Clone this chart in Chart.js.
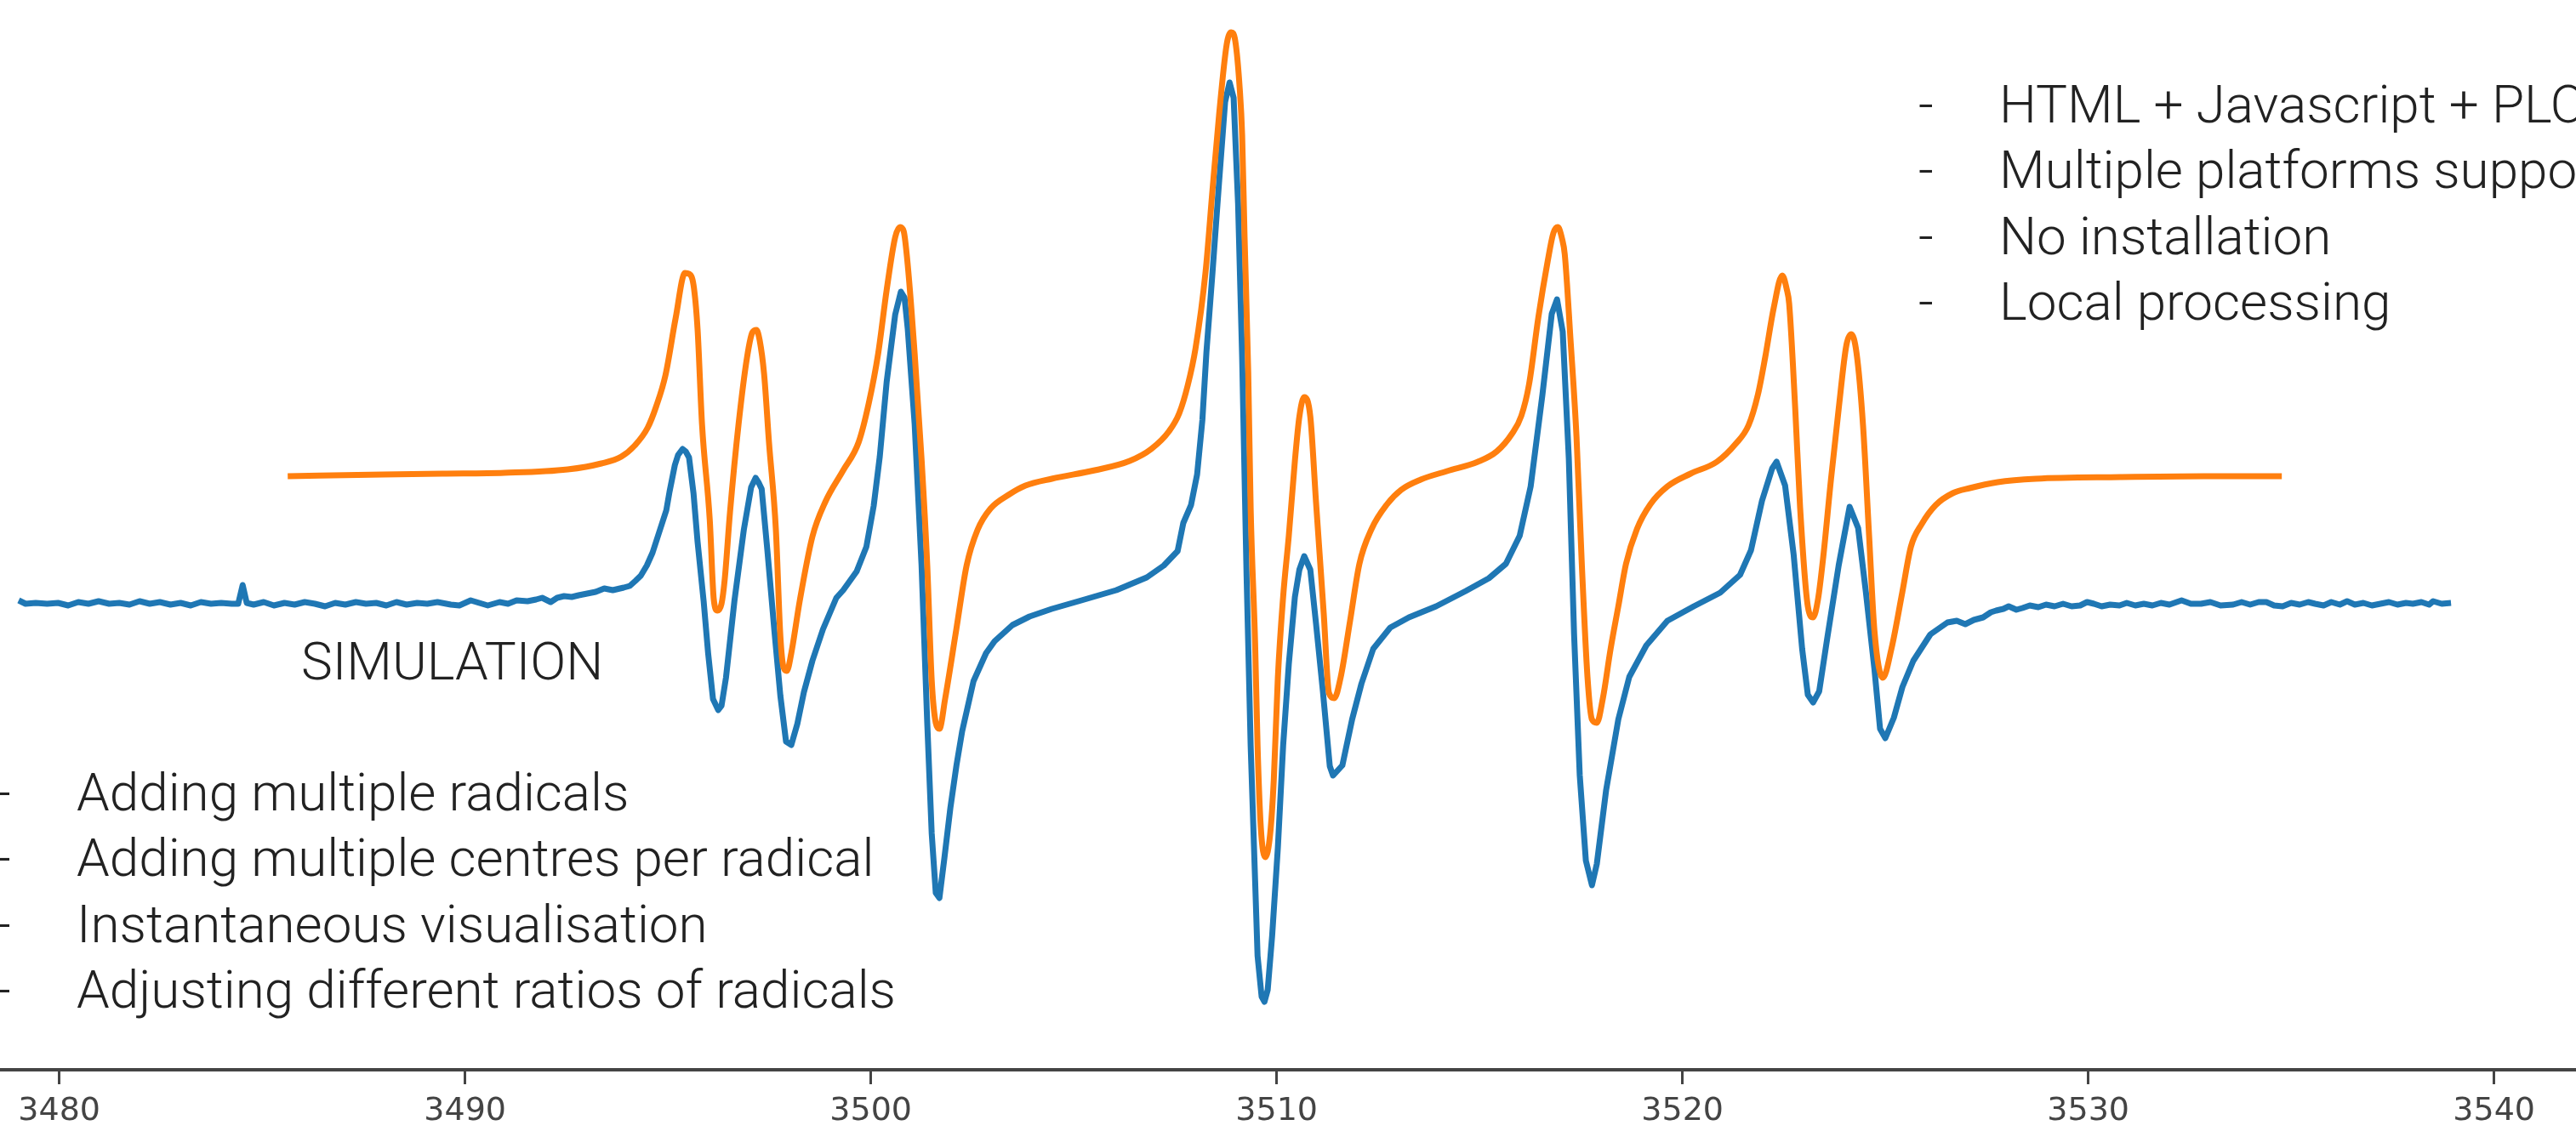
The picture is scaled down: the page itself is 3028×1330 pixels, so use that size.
<!DOCTYPE html>
<html>
<head>
<meta charset="utf-8">
<title>EPR spectrum vs simulation</title>
<script src="https://cdn.jsdelivr.net/npm/chart.js@4.4.1/dist/chart.umd.min.js"></script>
<style>
  html, body { margin: 0; padding: 0; background: #fff; }
  canvas { display: block; }
</style>
</head>
<body>
<canvas id="spectrum" width="3028" height="1330"></canvas>
<script>
// measured spectrum (blue), field in G, signal in a.u.
const expField = [
  3479.00, 3479.17, 3479.42, 3479.70, 3479.97, 3480.22, 3480.47, 3480.72, 3480.97, 3481.23,
  3481.48, 3481.73, 3481.98, 3482.23, 3482.48, 3482.74, 3482.99, 3483.24, 3483.49, 3483.74,
  3483.99, 3484.25, 3484.41, 3484.52, 3484.62, 3484.79, 3485.04, 3485.29, 3485.55, 3485.80,
  3486.05, 3486.30, 3486.55, 3486.80, 3487.05, 3487.31, 3487.56, 3487.81, 3488.06, 3488.31,
  3488.56, 3488.82, 3489.07, 3489.32, 3489.65, 3489.86, 3490.14, 3490.35, 3490.56, 3490.85,
  3491.06, 3491.27, 3491.54, 3491.75, 3491.90, 3492.11, 3492.27, 3492.44, 3492.63, 3492.80,
  3493.01, 3493.22, 3493.43, 3493.64, 3493.91, 3494.06, 3494.20, 3494.33, 3494.48, 3494.62,
  3494.79, 3494.96, 3495.04, 3495.17, 3495.25, 3495.36, 3495.44, 3495.52, 3495.63, 3495.73,
  3495.88, 3495.99, 3496.11, 3496.24, 3496.32, 3496.43, 3496.64, 3496.87, 3497.05, 3497.16,
  3497.24, 3497.31, 3497.45, 3497.62, 3497.77, 3497.91, 3498.04, 3498.19, 3498.35, 3498.56,
  3498.82, 3499.15, 3499.32, 3499.65, 3499.89, 3500.07, 3500.22, 3500.39, 3500.60, 3500.74,
  3500.83, 3500.91, 3501.08, 3501.25, 3501.39, 3501.50, 3501.60, 3501.69, 3501.81, 3501.96,
  3502.11, 3502.25, 3502.53, 3502.84, 3503.05, 3503.49, 3503.91, 3504.46, 3505.19, 3506.05,
  3506.80, 3507.22, 3507.56, 3507.70, 3507.89, 3508.04, 3508.17, 3508.27, 3508.42, 3508.58,
  3508.73, 3508.84, 3508.94, 3509.05, 3509.15, 3509.26, 3509.36, 3509.47, 3509.53, 3509.63,
  3509.70, 3509.78, 3509.89, 3510.03, 3510.16, 3510.30, 3510.45, 3510.56, 3510.68, 3510.83,
  3510.97, 3511.14, 3511.31, 3511.39, 3511.62, 3511.86, 3512.09, 3512.38, 3512.80, 3513.26,
  3513.93, 3514.66, 3515.23, 3515.65, 3515.99, 3516.26, 3516.55, 3516.78, 3516.91, 3517.05,
  3517.20, 3517.33, 3517.47, 3517.62, 3517.77, 3517.89, 3518.12, 3518.42, 3518.69, 3519.11,
  3519.63, 3520.28, 3520.93, 3521.42, 3521.69, 3521.96, 3522.21, 3522.32, 3522.53, 3522.74,
  3522.95, 3523.09, 3523.22, 3523.37, 3523.57, 3523.85, 3524.12, 3524.33, 3524.52, 3524.73,
  3524.87, 3525.00, 3525.21, 3525.42, 3525.69, 3526.11, 3526.53, 3526.76, 3526.97, 3527.18,
  3527.41, 3527.60, 3527.73, 3527.91, 3528.04, 3528.23, 3528.38, 3528.56, 3528.77, 3528.96,
  3529.17, 3529.38, 3529.59, 3529.80, 3529.97, 3530.14, 3530.33, 3530.54, 3530.77, 3530.95,
  3531.16, 3531.37, 3531.58, 3531.79, 3532.00, 3532.30, 3532.53, 3532.78, 3533.01, 3533.26,
  3533.57, 3533.78, 3533.99, 3534.20, 3534.39, 3534.58, 3534.79, 3535.00, 3535.21, 3535.42,
  3535.59, 3535.80, 3535.99, 3536.20, 3536.38, 3536.57, 3536.78, 3536.99, 3537.20, 3537.41,
  3537.62, 3537.83, 3538.00, 3538.21, 3538.40, 3538.50, 3538.71, 3538.94
];
const expSignal = [
  0.3, -0.1, 0, -0.1, 0, -0.3, 0.1, -0.1, 0.2, -0.1,
  0, -0.2, 0.2, -0.1, 0.1, -0.2, 0, -0.3, 0.1, -0.1,
  0, -0.1, -0.1, 2.1, 0, -0.2, 0.1, -0.3, 0, -0.2,
  0.1, -0.1, -0.4, 0, -0.2, 0.1, -0.1, 0, -0.3, 0.1,
  -0.2, 0, -0.1, 0.1, -0.2, -0.3, 0.3, 0, -0.3, 0.1,
  -0.1, 0.3, 0.2, 0.4, 0.6, 0.1, 0.6, 0.8, 0.7, 0.9,
  1.1, 1.3, 1.7, 1.5, 1.8, 2.0, 2.6, 3.2, 4.4, 5.9,
  8.4, 10.9, 13.1, 16.2, 17.4, 18.1, 17.8, 17.1, 12.9, 7.2,
  0.2, -5.9, -11.3, -12.6, -12.1, -8.8, 0.3, 8.6, 13.6, 14.7,
  14.1, 13.4, 6.2, -3.1, -10.9, -16.3, -16.7, -14.2, -10.5, -6.8,
  -3.1, 0.6, 1.5, 3.7, 6.6, 11.4, 17.2, 26.0, 33.9, 36.6,
  35.9, 32.2, 21.0, 4.4, -14.1, -27.1, -34.1, -34.7, -30.1, -24.1,
  -19.1, -15.1, -9.2, -5.9, -4.5, -2.6, -1.6, -0.7, 0.3, 1.5,
  3.0, 4.4, 6.1, 9.4, 11.5, 15.1, 21.5, 29.5, 38.9, 49.4,
  58.9, 61.2, 59.4, 46.9, 28.9, 3.1, -16.8, -32.7, -41.5, -46.3,
  -46.9, -45.5, -39.1, -28.8, -16.8, -7.2, 0.7, 3.9, 5.5, 3.9,
  -2.4, -10.4, -19.2, -20.3, -19.1, -13.7, -9.5, -5.4, -2.9, -1.7,
  -0.4, 1.4, 2.9, 4.6, 7.9, 13.7, 24.5, 34.0, 35.7, 31.9,
  17.0, -3.7, -20.3, -30.3, -33.2, -30.7, -22.0, -13.7, -8.7, -5.0,
  -2.1, -0.4, 1.2, 3.3, 6.2, 12.0, 15.8, 16.6, 13.8, 5.7,
  -5.4, -10.8, -11.7, -10.4, -4.1, 4.4, 11.3, 8.8, 1.3, -7.7,
  -14.8, -15.9, -13.5, -9.9, -6.8, -3.7, -2.3, -2.1, -2.5, -2.0,
  -1.7, -1.1, -0.9, -0.7, -0.4, -0.8, -0.6, -0.3, -0.5, -0.2,
  -0.4, -0.1, -0.4, -0.3, 0.1, -0.1, -0.4, -0.2, -0.3, 0,
  -0.3, -0.1, -0.3, 0, -0.2, 0.3, -0.1, -0.1, 0.1, -0.3,
  -0.2, 0.1, -0.2, 0.1, 0.1, -0.3, -0.4, 0, -0.2, 0.1,
  -0.1, -0.3, 0.1, -0.2, 0.2, -0.2, 0, -0.3, -0.1, 0.1,
  -0.2, 0, -0.1, 0.1, -0.2, 0.2, -0.1, 0
];

// simulated spectrum (orange), drawn with its own offset
const simField = [
  3485.63, 3487.98, 3489.44, 3490.97, 3492.53, 3493.36, 3493.85, 3494.18, 3494.50, 3494.71,
  3494.94, 3495.19, 3495.42, 3495.52, 3495.63, 3495.73, 3495.84, 3496.03, 3496.13, 3496.22,
  3496.32, 3496.40, 3496.53, 3496.74, 3496.95, 3497.08, 3497.18, 3497.26, 3497.37, 3497.49,
  3497.66, 3497.77, 3497.85, 3497.93, 3498.04, 3498.25, 3498.56, 3498.88, 3499.32, 3499.70,
  3499.95, 3500.18, 3500.39, 3500.60, 3500.72, 3500.81, 3500.91, 3501.08, 3501.25, 3501.39,
  3501.50, 3501.60, 3501.69, 3501.83, 3502.11, 3502.36, 3502.63, 3502.95, 3503.39, 3503.81,
  3504.46, 3505.52, 3506.38, 3506.91, 3507.35, 3507.60, 3507.81, 3508.00, 3508.25, 3508.42,
  3508.58, 3508.77, 3508.88, 3508.98, 3509.09, 3509.15, 3509.21, 3509.30, 3509.36, 3509.47,
  3509.53, 3509.61, 3509.72, 3509.84, 3509.93, 3510.03, 3510.16, 3510.30, 3510.45, 3510.56,
  3510.68, 3510.83, 3510.97, 3511.16, 3511.29, 3511.42, 3511.58, 3511.81, 3512.04, 3512.34,
  3512.72, 3513.07, 3513.55, 3514.20, 3514.96, 3515.42, 3515.80, 3516.03, 3516.22, 3516.45,
  3516.68, 3516.82, 3516.93, 3517.03, 3517.10, 3517.24, 3517.39, 3517.52, 3517.66, 3517.77,
  3517.89, 3518.04, 3518.23, 3518.42, 3518.61, 3518.88, 3519.21, 3519.63, 3520.20, 3520.85,
  3521.31, 3521.63, 3521.86, 3522.04, 3522.25, 3522.46, 3522.57, 3522.63, 3522.78, 3522.90,
  3523.09, 3523.22, 3523.34, 3523.47, 3523.66, 3523.85, 3524.04, 3524.16, 3524.29, 3524.45,
  3524.60, 3524.73, 3524.94, 3525.15, 3525.42, 3525.63, 3525.90, 3526.24, 3526.66, 3527.08,
  3527.77, 3528.71, 3530.79, 3532.84, 3534.77
];
const simSignal = [
  14.9, 15.1, 15.2, 15.3, 15.7, 16.4, 17.2, 18.5, 20.6, 23.1,
  26.8, 33.5, 38.8, 38.7, 37.4, 32.2, 21.0, 9.8, 0.4, -0.9,
  -0.1, 2.8, 10.7, 21.0, 28.9, 31.8, 32.1, 30.9, 26.9, 18.9,
  8.6, -3.9, -7.6, -8.0, -5.9, 0.3, 7.8, 11.9, 15.6, 18.9,
  23.5, 29.3, 36.8, 43.0, 44.2, 43.7, 39.7, 29.3, 16.9, 4.4,
  -9.1, -14.1, -14.8, -11.3, -3.0, 4.4, 8.6, 11.1, 12.7, 13.8,
  14.6, 15.6, 16.7, 18.1, 20.2, 22.3, 25.6, 29.9, 39.0, 48.6,
  57.3, 65.7, 67.1, 66.1, 60.5, 55.0, 43.0, 27.1, 11.1, -4.8,
  -16.8, -26.4, -29.9, -27.2, -20.8, -8.8, 0.7, 7.9, 16.7, 21.9,
  24.2, 21.9, 11.9, -1.2, -10.6, -11.2, -8.7, -2.1, 4.6, 8.7,
  11.6, 13.3, 14.5, 15.5, 16.6, 17.8, 19.9, 22.0, 25.7, 33.6,
  40.2, 43.5, 44.2, 42.9, 41.0, 31.1, 19.5, 4.6, -8.7, -13.7,
  -14.1, -11.2, -5.4, -0.4, 4.6, 8.7, 11.6, 13.7, 15.2, 16.6,
  18.7, 20.9, 24.5, 28.9, 34.7, 38.5, 36.9, 35.2, 22.8, 11.2,
  -0.4, -1.7, 0.4, 5.4, 14.5, 22.8, 30.3, 31.6, 29.4, 20.9,
  7.9, -3.2, -8.8, -5.4, 1.3, 6.6, 9.3, 11.5, 12.9, 13.5,
  14.2, 14.6, 14.8, 14.9, 14.9
];

const tickValues = [3480, 3490, 3500, 3510, 3520, 3530, 3540];

const notesRight = [
  "HTML + Javascript + PLOTLY",
  "Multiple platforms supported",
  "No installation",
  "Local processing"
];
const notesLeft = [
  "Adding multiple radicals",
  "Adding multiple centres per radical",
  "Instantaneous visualisation",
  "Adjusting different ratios of radicals"
];
const simLabel = "SIMULATION";

(function () {
  const toPoints = (xs, ys) => xs.map((x, i) => ({ x, y: ys[i] }));

  // slide-style annotations drawn over the plot
  const notesPlugin = {
    id: "notes",
    afterDraw(chart) {
      const ctx = chart.ctx;
      ctx.save();
      ctx.fillStyle = "#222";
      ctx.font = "300 62px Roboto, 'Liberation Sans', sans-serif";
      ctx.textBaseline = "alphabetic";
      notesRight.forEach((t, i) => {
        const y = 144 + i * 77.3;
        ctx.fillText("-", 2255, y);
        ctx.fillText(t, 2350, y);
      });
      notesLeft.forEach((t, i) => {
        const y = 953 + i * 77.3;
        ctx.fillText("-", -5, y);
        ctx.fillText(t, 90, y);
      });
      ctx.fillText(simLabel, 354, 799);
      ctx.restore();
    }
  };

  const ctx = document.getElementById("spectrum").getContext("2d");
  new Chart(ctx, {
    type: "line",
    data: {
      datasets: [
        {
          label: "Simulation",
          data: toPoints(simField, simSignal),
          borderColor: "#ff7f0e",
          borderWidth: 7,
          pointRadius: 0,
          fill: false,
          cubicInterpolationMode: "monotone",
          order: 1
        },
        {
          // raw data: straight segments keep the noise spiky
          label: "Experiment",
          data: toPoints(expField, expSignal),
          borderColor: "#1f77b4",
          borderWidth: 7,
          borderJoinStyle: "round",
          pointRadius: 0,
          fill: false,
          tension: 0,
          order: 2
        }
      ]
    },
    options: {
      responsive: false,
      devicePixelRatio: 1,
      animation: false,
      layout: { padding: 0 },
      plugins: {
        legend: { display: false },
        tooltip: { enabled: false }
      },
      scales: {
        x: {
          type: "linear",
          position: "bottom",
          min: 3478.54,
          max: 3542.02,
          afterBuildTicks: axis => {
            axis.ticks = tickValues.map(v => ({ value: v }));
          },
          // axis band below the plot is 72px tall in the source
          afterFit: axis => {
            axis.height = 72;
          },
          grid: {
            display: true,
            drawOnChartArea: false,
            drawTicks: true,
            tickLength: 17,
            tickWidth: 3,
            tickColor: "#444"
          },
          border: { display: true, color: "#444", width: 4 },
          ticks: {
            autoSkip: false,
            maxRotation: 0,
            padding: 9,
            color: "#444",
            font: { family: "'DejaVu Sans'", size: 38 },
            callback: v => String(v)
          }
        },
        y: {
          display: false,
          min: -54.9,
          max: 70.9
        }
      }
    },
    plugins: [notesPlugin]
  });
})();
</script>
</body>
</html>
